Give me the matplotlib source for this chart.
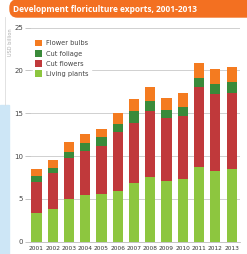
import numpy as np
import matplotlib.pyplot as plt
from matplotlib.patches import Rectangle, FancyBboxPatch

# data (USD billion)
years = ["2001", "2002", "2003", "2004", "2005", "2006", "2007",
         "2008", "2009", "2010", "2011", "2012", "2013"]
living_plants = [3.3, 3.8, 4.95, 5.45, 5.6, 5.95, 6.9, 7.6, 7.05, 7.3, 8.7, 8.3, 8.45]
cut_flowers = [3.7, 4.2, 4.85, 5.15, 5.55, 6.8, 7.0, 7.65, 7.35, 7.4, 9.3, 8.9, 8.95]
cut_foliage = [0.7, 0.6, 0.7, 0.9, 1.05, 0.95, 1.3, 1.15, 1.0, 1.05, 1.15, 1.2, 1.2]
flower_bulbs = [0.75, 0.9, 1.1, 1.05, 1.0, 1.35, 1.4, 1.7, 1.4, 1.55, 1.75, 1.7, 1.8]

c_living = "#8dc63f"
c_flowers = "#c0393b"
c_foliage = "#3a8a3a"
c_bulbs = "#f47b20"

fig = plt.figure(figsize=(2.47, 2.54), dpi=100)

# background bits: blue strip on the left, thin grey line, orange title banner
fig.patches.append(Rectangle((0, 0), 9 / 247, 149 / 254, transform=fig.transFigure,
                             color="#cde6f6", zorder=0))
fig.add_artist(plt.Line2D([5 / 247, 5 / 247], [149 / 254, 237 / 254],
                          transform=fig.transFigure, color="#dddddd", lw=0.6))
fig.patches.append(FancyBboxPatch((10 / 247, 237 / 254), 250 / 247, 17 / 254,
                                  boxstyle="round,pad=0,rounding_size=0.03",
                                  transform=fig.transFigure, color="#f37021",
                                  zorder=0))
fig.text(13 / 247, 245 / 254, "Development floriculture exports, 2001-2013",
         color="white", fontsize=6, fontweight="bold", va="center", ha="left",
         family="Open Sans")

ax = fig.add_axes([30 / 247, 12.3 / 254, 210 / 247, 214.2 / 254])

x = np.arange(len(years))
w = 0.62
b1 = np.array(living_plants)
b2 = b1 + np.array(cut_flowers)
b3 = b2 + np.array(cut_foliage)

ax.bar(x, living_plants, w, color=c_living, label="Living plants", zorder=2)
ax.bar(x, cut_flowers, w, bottom=b1, color=c_flowers, label="Cut flowers", zorder=2)
ax.bar(x, cut_foliage, w, bottom=b2, color=c_foliage, label="Cut foliage", zorder=2)
ax.bar(x, flower_bulbs, w, bottom=b3, color=c_bulbs, label="Flower bulbs", zorder=2)

ax.set_xlim(-0.4, 12.52)
ax.set_ylim(0, 25)
ax.set_yticks([0, 5, 10, 15, 20, 25])
ax.set_xticks(x)
ax.set_xticklabels(years)
ax.tick_params(axis="y", length=3.5, width=0.6, color="#bbbbbb", labelsize=5,
               labelcolor="#444444", pad=1.5)
ax.tick_params(axis="x", length=0, labelsize=4.2, labelcolor="#333333", pad=3)
ax.yaxis.grid(True, color="#d0d0d0", lw=0.7, zorder=0)
for s in ["top", "right", "left"]:
    ax.spines[s].set_visible(False)
ax.spines["bottom"].set_color("#bbbbbb")
ax.spines["bottom"].set_linewidth(0.6)

fig.text(11 / 247, 226 / 254, "USD billion", rotation=90, fontsize=3.6,
         color="#aaaaaa", ha="center", va="top")

h, l = ax.get_legend_handles_labels()
leg = ax.legend(h[::-1], l[::-1], loc="upper left",
                bbox_to_anchor=(33 / 247, 216 / 254), bbox_transform=fig.transFigure,
                fontsize=4.8, frameon=True, framealpha=1, edgecolor="white",
                fancybox=False, handlelength=1.1, handleheight=1.1, labelspacing=0.55,
                handletextpad=0.6, borderaxespad=0, borderpad=0.3)
for t in leg.get_texts():
    t.set_color("#444444")

fig.savefig("out.png", dpi=100)
